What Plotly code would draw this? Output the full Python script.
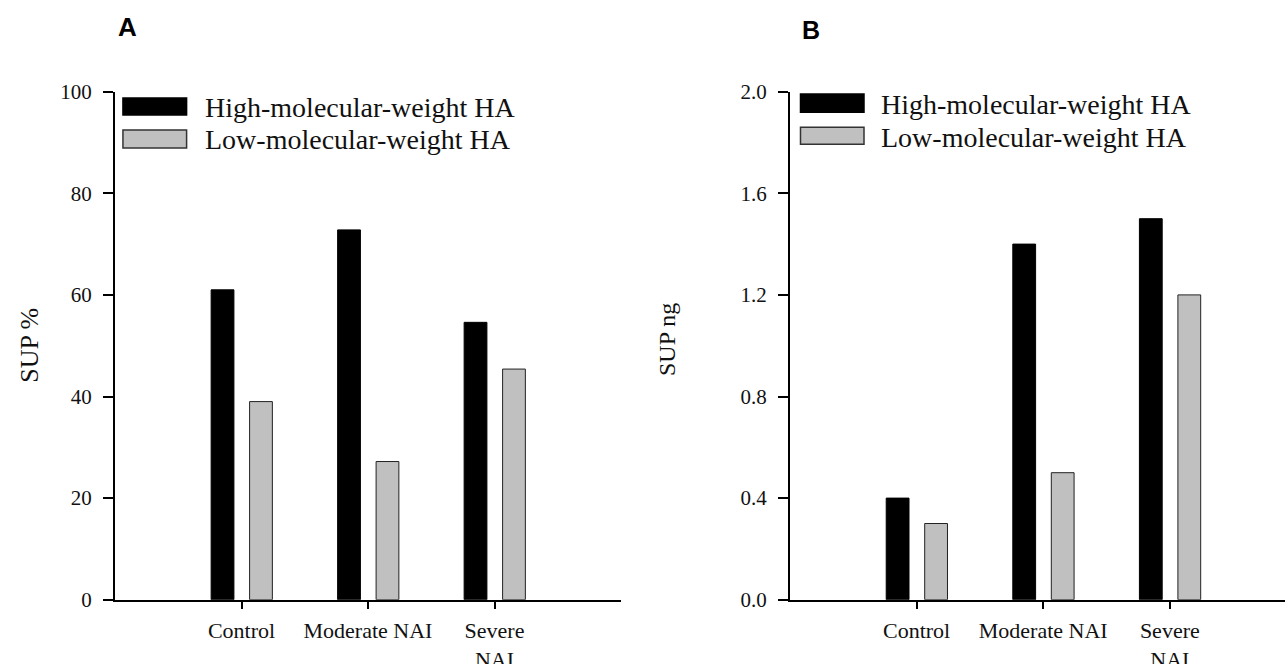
import plotly.graph_objects as go

categories = ["Control", "Moderate NAI", "Severe<br>NAI"]
series_names = ["High-molecular-weight HA", "Low-molecular-weight HA"]
sup_pct_high = [61.0, 72.8, 54.6]
sup_pct_low = [39.0, 27.2, 45.4]
sup_ng_high = [0.40, 1.40, 1.50]
sup_ng_low = [0.30, 0.50, 1.20]
yticks_a = [0, 20, 40, 60, 80, 100]
yticks_b = [0.0, 0.4, 0.8, 1.2, 1.6, 2.0]

SERIF = "Liberation Serif, Times New Roman, serif"
TXT = "#111111"
GRAY = "#c0c0c0"
xpos = list(range(len(categories)))

fig = go.Figure()

def add_bars(xa, ya, high, low):
    fig.add_trace(go.Bar(x=xpos, y=high, name=series_names[0], xaxis=xa, yaxis=ya,
                         width=0.18, offset=-0.24,
                         marker=dict(color="#000000", line=dict(color="#000000", width=1)),
                         showlegend=False))
    fig.add_trace(go.Bar(x=xpos, y=low, name=series_names[1], xaxis=xa, yaxis=ya,
                         width=0.18, offset=0.064,
                         marker=dict(color=GRAY, line=dict(color="#222222", width=1)),
                         showlegend=False))

add_bars("x", "y", sup_pct_high, sup_pct_low)
add_bars("x2", "y2", sup_ng_high, sup_ng_low)

ydom = [64.3 / 664, 572.3 / 664]
xcommon = dict(tickmode="array", tickvals=xpos, ticktext=categories,
               showline=True, linecolor="#000000", linewidth=2.3,
               ticks="outside", ticklen=7, tickwidth=1.5, tickcolor="#000000",
               ticklabelstandoff=3,
               tickfont=dict(family=SERIF, size=22, color=TXT),
               showgrid=False, zeroline=False, fixedrange=True, automargin=False)
ycommon = dict(showline=True, linecolor="#000000", linewidth=2,
               ticks="outside", ticklen=10, tickwidth=1.5, tickcolor="#000000",
               ticklabelstandoff=7,
               tickfont=dict(family=SERIF, size=21, color=TXT),
               showgrid=False, zeroline=False, fixedrange=True, automargin=False)

fig.update_layout(
    width=1285, height=664,
    margin=dict(l=0, r=0, t=0, b=0, pad=0),
    paper_bgcolor="white", plot_bgcolor="white",
    barmode="overlay",
    xaxis=dict(domain=[115 / 1285, 621 / 1285], range=[-1, 3], anchor="y", **xcommon),
    yaxis=dict(domain=ydom, range=[0, 100], tickvals=yticks_a, anchor="x", **ycommon),
    xaxis2=dict(domain=[790 / 1285, 1.0], range=[-1, 2.91], anchor="y2", **xcommon),
    yaxis2=dict(domain=ydom, range=[0, 2.0], tickvals=yticks_b, tickformat=".1f",
                anchor="x2", **ycommon),
)

# Legend swatches and labels (per panel)
legend_specs = [
    ("x", "y", [(0.0157, 0.1415, 0.954, 0.9876), (0.0157, 0.1415, 0.8892, 0.9246)], 0.1749, [0.968, 0.905]),
    ("x2", "y2", [(0.0212, 0.1495, 0.9597, 0.9955), (0.0212, 0.1495, 0.8966, 0.930)], 0.1808, [0.974, 0.909]),
]
for xa, ya, boxes, tx, tys in legend_specs:
    for i, (x0, x1, y0, y1) in enumerate(boxes):
        fill = "#000000" if i == 0 else GRAY
        lc = "#000000" if i == 0 else "#333333"
        fig.add_shape(type="rect", xref=f"{xa} domain", yref=f"{ya} domain",
                      x0=x0, x1=x1, y0=y0, y1=y1,
                      fillcolor=fill, line=dict(color=lc, width=1.5))
        fig.add_annotation(text=series_names[i], xref=f"{xa} domain", yref=f"{ya} domain",
                           x=tx, y=tys[i], xanchor="left", yanchor="middle", showarrow=False,
                           font=dict(family=SERIF, size=28, color=TXT))

# Axis titles
fig.add_annotation(text="SUP %", xref="paper", yref="paper", x=28.7 / 1285, y=(664 - 345) / 664,
                   textangle=-90, showarrow=False, xanchor="center", yanchor="middle",
                   font=dict(family=SERIF, size=26, color=TXT))
fig.add_annotation(text="SUP ng", xref="paper", yref="paper", x=667 / 1285, y=(664 - 340) / 664,
                   textangle=-90, showarrow=False, xanchor="center", yanchor="middle",
                   font=dict(family=SERIF, size=24, color=TXT))

# Panel letters
fig.add_annotation(text="<b>A</b>", xref="paper", yref="paper", x=127 / 1285, y=(664 - 26.5) / 664,
                   showarrow=False, xanchor="center", yanchor="middle",
                   font=dict(family="Liberation Sans, Arial, sans-serif", size=26, color="#000000"))
fig.add_annotation(text="<b>B</b>", xref="paper", yref="paper", x=811 / 1285, y=(664 - 30) / 664,
                   showarrow=False, xanchor="center", yanchor="middle",
                   font=dict(family="Liberation Sans, Arial, sans-serif", size=25, color="#000000"))

fig.write_html("out.html", config={"displayModeBar": False},
               post_script="document.body.style.margin='0';document.body.style.overflow='hidden';")
